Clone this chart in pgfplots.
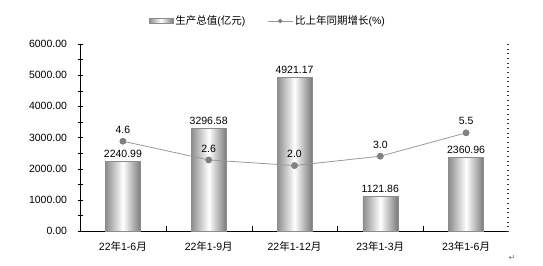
\documentclass[border=0pt]{standalone}
\usepackage{fontspec}
\setmainfont{Liberation Sans}
\newfontfamily\cjk{Noto Sans CJK SC}
\newfontfamily\dejavu{DejaVu Sans}
\newcommand\zh[1]{{\cjk #1}}
\usepackage{pgfplots}
\pgfplotsset{compat=1.18}
\usetikzlibrary{calc}
\pgfplotsset{barsty/.style={ybar, bar width=35pt, bar shift=0pt, left color=black!45, right color=black!52, middle color=white, draw=black!45,
  point meta=explicit symbolic, nodes near coords, nodes near coords style={black}}}
\begin{document}
\begin{tikzpicture}[font=\fontsize{10.5}{12}\selectfont]
\begin{axis}[
  name=main,
  scale only axis, width=429pt, height=187pt,
  xmin=-0.5, xmax=4.5, ymin=0, ymax=6000,
  axis x line*=bottom, axis y line*=left,
  axis line style={black, line width=0.8pt},
  xtick={0,1,2,3,4},
  xticklabels={22\zh{年}1-6\zh{月},22\zh{年}1-9\zh{月},22\zh{年}1-12\zh{月},23\zh{年}1-3\zh{月},23\zh{年}1-6\zh{月}},
  major x tick style={draw=none},
  minor xtick={0.5,1.5,2.5,3.5},
  xtick align=inside,
  minor x tick style={black},
  xticklabel style={yshift=-7pt},
  ytick distance=1000, minor y tick num=1,
  ytick align=center,
  major tick length=5pt, minor tick length=5pt,
  y tick style={black},
  yticklabel style={xshift=-7pt, /pgf/number format/.cd, fixed, fixed zerofill, precision=2, 1000 sep={}, assume math mode=true},
  scaled y ticks=false,
  clip=false,
]
\addplot[barsty] coordinates {(0,2240.99)[2240.99]};
\addplot[barsty] coordinates {(1,3296.58)[3296.58]};
\addplot[barsty] coordinates {(2,4921.17)[4921.17]};
\addplot[barsty] coordinates {(3,1121.86)[1121.86]};
\addplot[barsty] coordinates {(4,2360.96)[2360.96]};
\end{axis}
\begin{axis}[
  scale only axis, width=429pt, height=187pt,
  xmin=-0.5, xmax=4.5, ymin=-5, ymax=15,
  axis x line=none, axis y line*=right,
  y axis line style={draw=none},
  ytick distance=0.5, yticklabels={},
  ytick align=inside, major tick length=2.5pt,
  y tick style={black!80},
  clip=false,
  legend columns=2,
  legend style={draw=none, fill=none, at={(0.438,1.123)}, anchor=center,
    /tikz/every even column/.append style={column sep=20pt},
    font=\fontsize{10.5}{12}\selectfont},
]
\addlegendimage{legend image code/.code={\path[left color=black!45, right color=black!52, middle color=white, draw=black!45] (0pt,-2.5pt) rectangle (24pt,2.5pt);}}
\addlegendentry{\zh{生产总值}(\zh{亿元})}
\addplot[black!40, line width=0.8pt, mark=*, mark size=3pt, mark options={fill=black!50, draw=black!50},
  point meta=explicit symbolic, nodes near coords, nodes near coords style={black, yshift=4pt},
  legend image code/.code={\draw[black!40, line width=0.8pt] (0pt,0pt) -- (25pt,0pt); \fill[black!50] (12.5pt,0pt) circle (1.8pt);}]
  coordinates {(0,4.6)[4.6] (1,2.6)[2.6] (2,2.0)[2.0] (3,3.0)[3.0] (4,5.5)[5.5]};
\addlegendentry{\zh{比上年同期增长}(\%)}
\end{axis}
\path ($(main.south west)+(-80pt,-35pt)$) rectangle ($(main.north east)+(34pt,44pt)$);
\node[text=black!55, font=\dejavu\fontsize{8}{8}\selectfont] at ($(main.south east)+(3pt,-27pt)$) {↵};
\end{tikzpicture}
\end{document}
